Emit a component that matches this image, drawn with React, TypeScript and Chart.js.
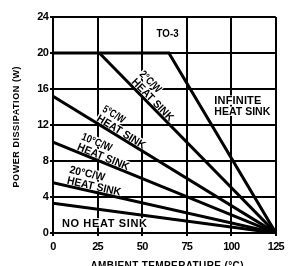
import React, { useEffect, useRef } from "react";
import { Chart, registerables } from "chart.js";

Chart.register(...registerables);

// ---- data ----
const xTicks = [0, 25, 50, 75, 100, 125];
const yTicks = [0, 4, 8, 12, 16, 20, 24];

const infiniteX = [0, 65, 125];
const infiniteY = [20, 20, 0];
const sink2X = [26, 125];
const sink2Y = [20, 0];
const sink5X = [0, 125];
const sink5Y = [15.2, 0];
const sink10X = [0, 125];
const sink10Y = [10.1, 0];
const sink20X = [0, 125];
const sink20Y = [5.6, 0];
const noSinkX = [0, 125];
const noSinkY = [3.3, 0];

const seriesNames = ["INFINITE HEAT SINK", "2°C/W", "5°C/W", "10°C/W", "20°C/W", "NO HEAT SINK"];
const rotatedTopLines = ["2°C/W", "5°C/W", "10°C/W", "20°C/W"];
const rotatedBottomLine = "HEAT SINK";
const infiniteLines = ["INFINITE", "HEAT SINK"];
const packageLabel = "TO-3";
const noSinkLabel = "NO HEAT SINK";
const yTitle = "POWER DISSIPATION (W)";
const xTitle = "AMBIENT TEMPERATURE (°C)";

// layout of the labels (positions in data units, widths in px)
const rotatedStartX = [43, 23.6, 12.8, 7.3];
const rotatedTopW = [26, 24, 32, 36];
const rotatedBottomW = 55;

const FONT = "'Liberation Sans', Arial, sans-serif";

function fitText(
  ctx: CanvasRenderingContext2D,
  s: string,
  x: number,
  y: number,
  size: number,
  target: number,
  align: "left" | "center",
  bg: boolean
) {
  ctx.font = `bold ${size}px ${FONT}`;
  (ctx as any).letterSpacing = "0px";
  const w = ctx.measureText(s).width;
  ctx.save();
  ctx.translate(x, y);
  ctx.textAlign = "left";
  let k = 1;
  if (w < target && s.length > 1) {
    const ls = (target - w) / (s.length - 1);
    (ctx as any).letterSpacing = ls + "px";
  } else {
    k = target / w;
    ctx.scale(k, 1);
  }
  const tw = k === 1 ? target : w;
  const x0 = align === "center" ? -tw / 2 : 0;
  if (bg) {
    ctx.fillRect(x0 - 1, -size * 0.8, tw + 2, size * 0.85);
  } else {
    ctx.fillText(s, x0, 0);
  }
  ctx.restore();
}

const labelPlugin = {
  id: "annotLabels",
  _draw(chart: any, bg: boolean) {
    const ctx: CanvasRenderingContext2D = chart.ctx;
    const xs = chart.scales.x;
    const ys = chart.scales.y;
    ctx.save();
    ctx.fillStyle = bg ? "#fff" : "#000";
    ctx.textBaseline = "alphabetic";

    const lineSets = [
      [sink2X, sink2Y],
      [sink5X, sink5Y],
      [sink10X, sink10Y],
      [sink20X, sink20Y],
    ];
    lineSets.forEach(([lx, ly], i) => {
      const x0 = xs.getPixelForValue(lx[0]);
      const y0 = ys.getPixelForValue(ly[0]);
      const x1 = xs.getPixelForValue(lx[lx.length - 1]);
      const y1 = ys.getPixelForValue(ly[ly.length - 1]);
      const ang = Math.atan2(y1 - y0, x1 - x0);
      const t = (rotatedStartX[i] - lx[0]) / (lx[lx.length - 1] - lx[0]);
      const px = x0 + t * (x1 - x0);
      const py = y0 + t * (y1 - y0);
      ctx.save();
      ctx.translate(px, py);
      ctx.rotate(ang);
      fitText(ctx, rotatedTopLines[i], 0, -2 - 11, 11, rotatedTopW[i], "left", bg);
      fitText(ctx, rotatedBottomLine, 0, -2, 11, rotatedBottomW, "left", bg);
      ctx.restore();
    });

    fitText(ctx, noSinkLabel, xs.getPixelForValue(5), ys.getPixelForValue(0.67), 11, 85, "left", bg);

    const ix = xs.getPixelForValue(90.5);
    const iy = ys.getPixelForValue(14.3);
    fitText(ctx, infiniteLines[0], ix, iy, 11, 47, "left", bg);
    fitText(ctx, infiniteLines[1], ix, iy + 11, 11, 56, "left", bg);

    fitText(ctx, packageLabel, xs.getPixelForValue(58.1), ys.getPixelForValue(21.8), 11, 22, "left", bg);
    ctx.restore();
  },
  beforeDraw(chart: any) {
    (chart.ctx as any).letterSpacing = "-0.8px";
  },
  beforeDatasetsDraw(chart: any) {
    (labelPlugin as any)._draw(chart, true);
  },
  afterDatasetsDraw(chart: any) {
    (labelPlugin as any)._draw(chart, false);
  },
  afterDraw(chart: any) {
    const ctx: CanvasRenderingContext2D = chart.ctx;
    const area = chart.chartArea;
    ctx.save();
    ctx.fillStyle = "#000";
    ctx.textBaseline = "alphabetic";
    ctx.save();
    ctx.translate(18.5, (area.top + area.bottom) / 2 + 2);
    ctx.rotate(-Math.PI / 2);
    fitText(ctx, yTitle, 0, 0, 9, 121, "center", false);
    ctx.restore();
    fitText(ctx, xTitle, 167, 269, 10, 153, "center", false);
    ctx.restore();
    (ctx as any).letterSpacing = "0px";
  },
};

export default function App() {
  const ref = useRef<HTMLCanvasElement | null>(null);
  useEffect(() => {
    if (!ref.current) return;
    const mk = (xsArr: number[], ysArr: number[], label: string) => ({
      label,
      data: xsArr.map((x, i) => ({ x, y: ysArr[i] })),
      showLine: true,
      borderColor: "#000",
      backgroundColor: "#000",
      borderWidth: 3,
      pointRadius: 0,
      fill: false,
      tension: 0,
    });
    const tickFont = { family: FONT, size: 11, weight: "bold" as const };
    const chart = new Chart(ref.current, {
      type: "scatter",
      data: {
        datasets: [
          mk(infiniteX, infiniteY, seriesNames[0]),
          mk(sink2X, sink2Y, seriesNames[1]),
          mk(sink5X, sink5Y, seriesNames[2]),
          mk(sink10X, sink10Y, seriesNames[3]),
          mk(sink20X, sink20Y, seriesNames[4]),
          mk(noSinkX, noSinkY, seriesNames[5]),
        ],
      },
      options: {
        responsive: false,
        animation: false,
        devicePixelRatio: 1,
        layout: { padding: { top: 17, right: 8, left: 0, bottom: 0 } },
        plugins: { legend: { display: false }, tooltip: { enabled: false } },
        scales: {
          x: {
            type: "linear",
            min: xTicks[0],
            max: xTicks[xTicks.length - 1],
            afterBuildTicks: (s: any) => {
              s.ticks = xTicks.map((v) => ({ value: v }));
            },
            ticks: { color: "#000", font: tickFont, padding: 4, maxRotation: 0, autoSkip: false },
            grid: { color: "#000", lineWidth: 2, tickLength: 3 },
            border: { color: "#000", width: 2 },
            afterFit: (s: any) => {
              s.height = 33;
            },
          },
          y: {
            type: "linear",
            min: yTicks[0],
            max: yTicks[yTicks.length - 1],
            afterBuildTicks: (s: any) => {
              s.ticks = yTicks.map((v) => ({ value: v }));
            },
            ticks: { color: "#000", font: tickFont, padding: 2, autoSkip: false },
            grid: { color: "#000", lineWidth: 2, tickLength: 3 },
            border: { color: "#000", width: 2 },
            afterFit: (s: any) => {
              s.width = 53;
            },
          },
        },
      } as any,
      plugins: [labelPlugin as any],
    });
    return () => chart.destroy();
  }, []);
  return (
    <div style={{ position: "absolute", left: 0, top: 0, width: 289, height: 266, background: "#fff" }}>
      <canvas ref={ref} width={289} height={266} style={{ display: "block" }} />
    </div>
  );
}
